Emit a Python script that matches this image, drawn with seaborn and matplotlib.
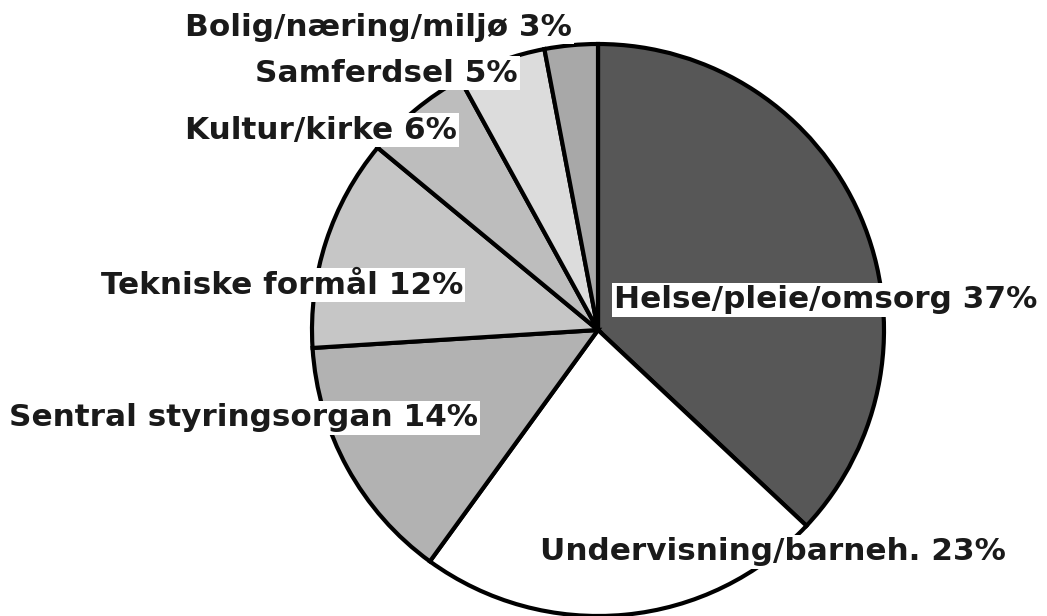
import matplotlib
matplotlib.use("Agg")
import matplotlib.pyplot as plt
import seaborn as sns

# budget shares, clockwise from 12 o'clock
categories = ["Helse/pleie/omsorg", "Undervisning/barneh.", "Sentral styringsorgan",
              "Tekniske formål", "Kultur/kirke", "Samferdsel", "Bolig/næring/miljø"]
shares = [37, 23, 14, 12, 6, 5, 3]

# label anchors in pixel space (x, y from top) and alignment
label_pos = [(614, 300, "left"), (540, 552, "left"), (478, 418, "right"),
             (463, 285, "right"), (457, 130, "right"), (518, 73, "right"),
             (572, 27, "right")]
shades = ["#575757", "#ffffff", "#b2b2b2", "#c6c6c6", "#bdbdbd", "#dcdcdc", "#a8a8a8"]

sns.set_theme(style="white")
plt.rcParams["font.family"] = ["DejaVu Sans"]

W, H = 1047, 616
fig = plt.figure(figsize=(W / 100, H / 100), dpi=100)
ax = fig.add_axes([0, 0, 1, 1])

ax.pie(shares, colors=shades, startangle=90, counterclock=False,
       center=(598, H - 330), radius=286, frame=True,
       wedgeprops=dict(edgecolor="black", linewidth=3))
ax.set_xlim(0, W)
ax.set_ylim(0, H)
ax.set_axis_off()

for cat, val, (x, y, ha) in zip(categories, shares, label_pos):
    ax.text(x, H - y, f"{cat} {val}%", ha=ha, va="center", fontsize=22.4,
            fontweight="bold", color="#1a1a1a",
            bbox=dict(facecolor="white", edgecolor="none", pad=1.5))

fig.savefig("out.png", dpi=100)
